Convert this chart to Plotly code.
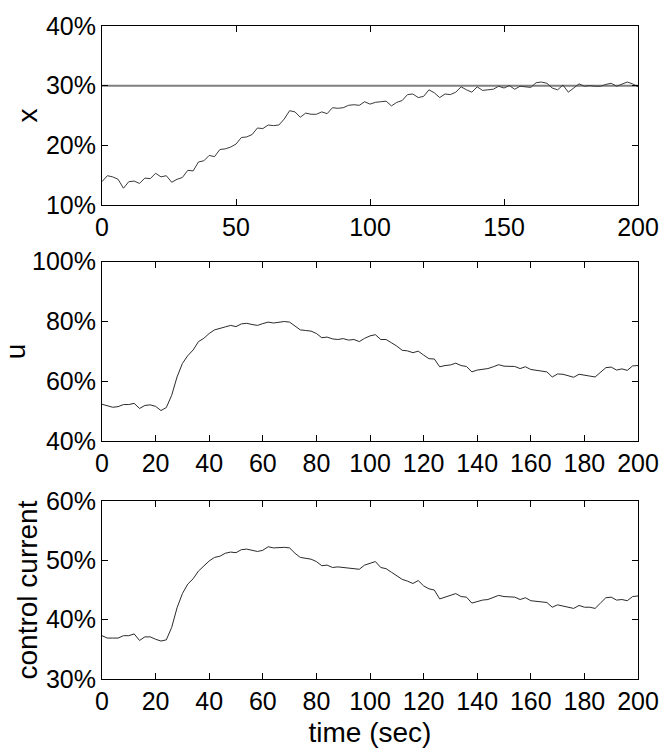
import plotly.graph_objects as go
from plotly.subplots import make_subplots

# time axis (sec), sampled every 2 s
time_sec = list(range(0, 201, 2))

# x (%)
x_vals = [13.9, 14.9, 14.7, 14.3, 12.8, 13.9, 14.0, 13.6, 14.5, 14.4,
          15.3, 14.7, 14.9, 13.8, 14.3, 14.6, 15.8, 15.7, 17.2, 17.4,
          18.3, 18.1, 19.3, 19.4, 19.7, 20.2, 21.3, 21.4, 21.8, 22.9,
          22.8, 23.4, 23.3, 23.4, 24.4, 25.8, 25.6, 24.7, 25.4, 25.2,
          25.2, 25.6, 25.3, 26.3, 26.2, 26.3, 26.7, 26.8, 26.7, 27.3,
          26.9, 27.2, 27.3, 27.4, 26.6, 27.2, 27.5, 28.5, 28.6, 28.0,
          28.2, 29.3, 28.8, 28.0, 28.6, 28.5, 28.9, 29.8, 29.3, 28.9,
          29.8, 29.2, 29.3, 29.4, 29.9, 29.6, 30.0, 29.4, 29.9, 29.8,
          29.7, 30.5, 30.6, 30.4, 29.6, 29.3, 30.1, 28.9, 29.6, 30.3,
          29.9, 30.0, 29.9, 29.9, 30.2, 30.4, 29.9, 30.3, 30.6, 30.3,
          29.8]

# setpoint for x (%)
x_setpoint = [30.0, 30.0]
x_setpoint_t = [0, 200]

# u (%)
u_vals = [52.4, 52.0, 51.4, 51.6, 52.3, 52.3, 52.7, 51.0, 52.0, 52.2,
          51.7, 50.3, 51.3, 55.4, 61.5, 66.0, 68.6, 70.5, 73.3, 74.4,
          76.0, 77.2, 77.6, 78.2, 78.7, 78.3, 79.2, 79.4, 79.0, 78.7,
          79.3, 79.8, 79.5, 79.8, 80.0, 79.8, 78.4, 77.2, 77.0, 76.8,
          76.0, 74.6, 74.8, 74.2, 74.0, 74.3, 73.8, 74.0, 73.3, 74.4,
          75.2, 75.6, 74.0, 74.0, 72.9, 71.8, 70.4, 70.2, 69.6, 70.1,
          68.8, 67.6, 67.5, 64.9, 65.3, 65.5, 66.1, 65.3, 65.0, 63.2,
          63.8, 64.1, 64.3, 64.9, 65.6, 65.1, 65.0, 65.0, 64.3, 64.9,
          64.0, 63.7, 63.4, 63.2, 61.5, 62.5, 62.4, 61.8, 61.4, 62.4,
          62.0, 61.8, 61.5, 63.2, 64.6, 64.8, 63.8, 64.2, 63.7, 65.2,
          65.3]

# control current (%)
cc_vals = [37.3, 36.9, 36.9, 36.9, 37.3, 37.3, 37.6, 36.5, 37.1, 37.1,
           36.7, 36.4, 36.6, 38.7, 42.0, 44.4, 46.0, 46.9, 48.2, 49.0,
           49.9, 50.5, 50.7, 51.2, 51.4, 51.3, 51.8, 51.9, 51.7, 51.5,
           51.7, 52.3, 52.1, 52.2, 52.2, 52.1, 51.2, 50.5, 50.3, 50.2,
           49.8, 49.1, 49.2, 48.8, 48.9, 48.8, 48.8, 48.7, 48.5, 49.2,
           49.5, 49.8, 48.8, 48.6, 48.0, 47.4, 46.8, 46.5, 46.1, 46.6,
           45.7, 45.2, 45.0, 43.5, 43.8, 44.0, 44.4, 43.9, 43.8, 42.8,
           43.1, 43.3, 43.4, 43.8, 44.1, 43.9, 43.8, 43.8, 43.4, 43.7,
           43.2, 43.1, 42.9, 42.9, 42.1, 42.5, 42.3, 42.1, 41.9, 42.4,
           42.1, 42.1, 41.9, 42.8, 43.7, 43.8, 43.3, 43.4, 43.2, 43.9,
           44.0]

x_ticks_top = [0, 50, 100, 150, 200]
x_ticks_other = [0, 20, 40, 60, 80, 100, 120, 140, 160, 180, 200]
y1_ticks = [10, 20, 30, 40]
y2_ticks = [40, 60, 80, 100]
y3_ticks = [30, 40, 50, 60]

FONT = "Liberation Sans, Arial, sans-serif"

fig = make_subplots(rows=3, cols=1, shared_xaxes=False, vertical_spacing=0.09)

fig.add_trace(go.Scatter(x=x_setpoint_t, y=x_setpoint, mode="lines",
                         line=dict(color="#808080", width=2), showlegend=False), row=1, col=1)
fig.add_trace(go.Scatter(x=time_sec, y=x_vals, mode="lines",
                         line=dict(color="#3a3a3a", width=1), showlegend=False), row=1, col=1)
fig.add_trace(go.Scatter(x=time_sec, y=u_vals, mode="lines",
                         line=dict(color="#2a2a2a", width=1), showlegend=False), row=2, col=1)
fig.add_trace(go.Scatter(x=time_sec, y=cc_vals, mode="lines",
                         line=dict(color="#2a2a2a", width=1), showlegend=False), row=3, col=1)

axis_common = dict(showline=True, linecolor="black", linewidth=1, mirror="ticks",
                   ticks="inside", ticklen=6, tickcolor="black", tickwidth=1,
                   showgrid=False, zeroline=False,
                   tickfont=dict(family=FONT, size=25, color="black"))

domains = [[0.726, 1.0], [0.3638, 0.6393], [0.0, 0.2725]]
xt = [x_ticks_top, x_ticks_other, x_ticks_other]
yt = [y1_ticks, y2_ticks, y3_ticks]
ytitles = ["x", "u", "control current"]
for i in range(3):
    fig.update_xaxes(range=[0, 200], tickvals=xt[i], ticktext=[str(v) for v in xt[i]],
                     row=i + 1, col=1, **axis_common)
    fig.update_yaxes(range=[yt[i][0], yt[i][-1]], tickvals=yt[i],
                     ticktext=[f"{v}%" for v in yt[i]],
                     domain=domains[i], row=i + 1, col=1,
                     title=dict(text=ytitles[i], font=dict(family=FONT, size=28, color="black"),
                                standoff=0),
                     **axis_common)

fig.update_xaxes(title=dict(text="time (sec)", font=dict(family=FONT, size=28, color="black"),
                            standoff=8), row=3, col=1)

fig.update_layout(width=671, height=755,
                  margin=dict(l=99, r=25, t=25, b=73),
                  paper_bgcolor="white", plot_bgcolor="white",
                  font=dict(family=FONT, color="black"))

fig.write_html("out.html")
